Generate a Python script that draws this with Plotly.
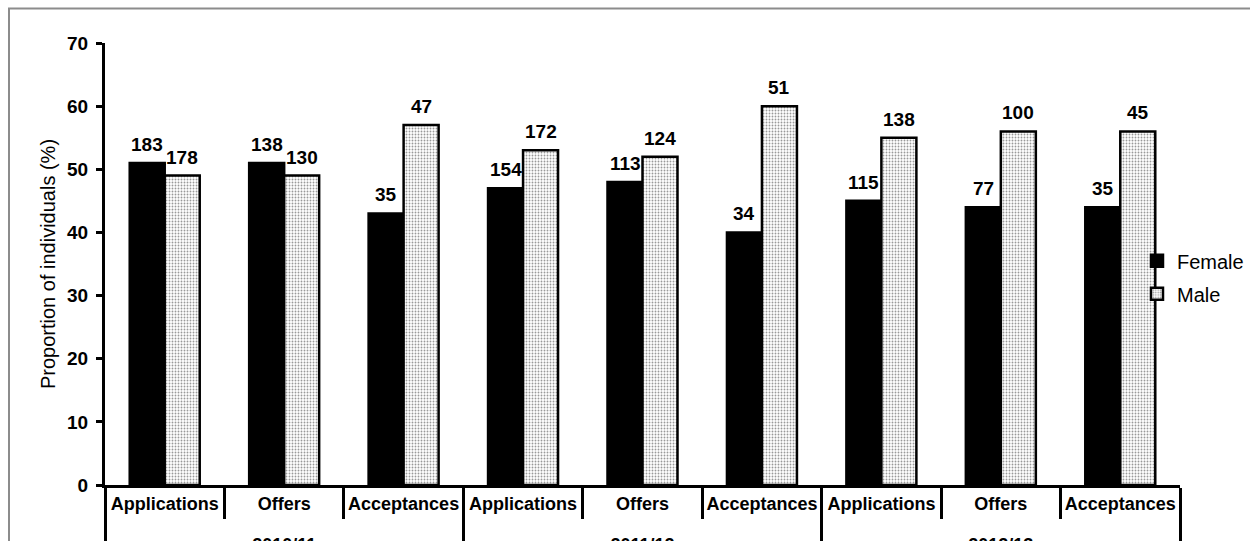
import plotly.graph_objects as go

# Admission stages per academic year, split by sex
years = ["2010/11"] * 3 + ["2011/12"] * 3 + ["2012/13"] * 3
stages = ["Applications", "Offers", "Acceptances"] * 3

female_pct = [51, 51, 43, 47, 48, 40, 45, 44, 44]
male_pct = [49, 49, 57, 53, 52, 60, 55, 56, 56]

female_n = [183, 138, 35, 154, 113, 34, 115, 77, 35]
male_n = [178, 130, 47, 172, 124, 51, 138, 100, 45]

FONT = "Liberation Sans, Arial, sans-serif"

W, H = 1250, 541
MARGIN = dict(l=105, r=70, t=43, b=56, autoexpand=False)
BARGAP = 0.414

# Stage labels carry a near-empty second line so the year row sits lower
stage_labels = [s + "<br><span style='font-size:1px'>&nbsp;</span>" for s in stages]
x_cats = [years, stage_labels]

fig = go.Figure()

fig.add_trace(go.Bar(
    name="Female",
    legendgroup="female",
    x=x_cats,
    y=female_pct,
    marker=dict(color="black", line=dict(color="black", width=2.5)),
))

fig.add_trace(go.Bar(
    name="Male",
    legendgroup="male",
    x=x_cats,
    y=male_pct,
    marker=dict(
        color="white",
        line=dict(color="black", width=2.5),
        pattern=dict(shape=".", size=3, solidity=0.3,
                     fgcolor="#999999", bgcolor="white", fillmode="replace"),
    ),
))

# Count labels sit above each bar; half a bar width left/right of the category centre
plot_w = W - MARGIN["l"] - MARGIN["r"]
half_bar = plot_w / len(stages) * (1 - BARGAP) / 4
for i, (fv, mv, fn, mn) in enumerate(zip(female_pct, male_pct, female_n, male_n)):
    for val, n, shift in ((fv, fn, -half_bar), (mv, mn, half_bar)):
        fig.add_annotation(
            x=i, y=val, xref="x", yref="y",
            text=f"<b>{n}</b>", showarrow=False,
            xanchor="center", yanchor="bottom",
            xshift=shift, yshift=6,
            font=dict(family=FONT, size=19, color="black"),
        )

# Outer frame around the chart
fig.add_shape(
    type="rect", xref="paper", yref="paper",
    x0=-0.0893, x1=1.2, y0=-0.3, y1=1.078,
    line=dict(color="#8c8c8c", width=2), fillcolor="rgba(0,0,0,0)",
    layer="below",
)

fig.update_layout(
    width=W,
    height=H,
    margin=MARGIN,
    paper_bgcolor="white",
    plot_bgcolor="white",
    barmode="group",
    bargap=BARGAP,
    bargroupgap=0,
    font=dict(family=FONT, color="black"),
    showlegend=True,
    legend=dict(
        x=0.960, xanchor="left",
        y=0.47, yanchor="middle",
        font=dict(family=FONT, size=20, color="black"),
        bgcolor="rgba(0,0,0,0)",
        itemwidth=30,
        traceorder="grouped",
        tracegroupgap=4,
    ),
    xaxis=dict(
        type="multicategory",
        showline=True, linewidth=3, linecolor="black",
        ticks="outside", tickson="boundaries",
        ticklen=31, tickwidth=3, tickcolor="black",
        showdividers=True, dividercolor="black", dividerwidth=3,
        tickangle=0,
        tickfont=dict(family=FONT, size=18, color="black", weight="bold"),
        showgrid=False,
        automargin=False,
    ),
    yaxis=dict(
        range=[0, 70], dtick=10,
        showline=True, linewidth=3, linecolor="black",
        ticks="outside", ticklen=6, tickwidth=3, tickcolor="black",
        ticklabelstandoff=4,
        tickfont=dict(family=FONT, size=19, color="black", weight="bold"),
        showgrid=False, zeroline=False,
        title=dict(text="Proportion of individuals (%)",
                   font=dict(family=FONT, size=20, color="black"),
                   standoff=7),
        automargin=False,
    ),
)

fig.write_html("out.html")
